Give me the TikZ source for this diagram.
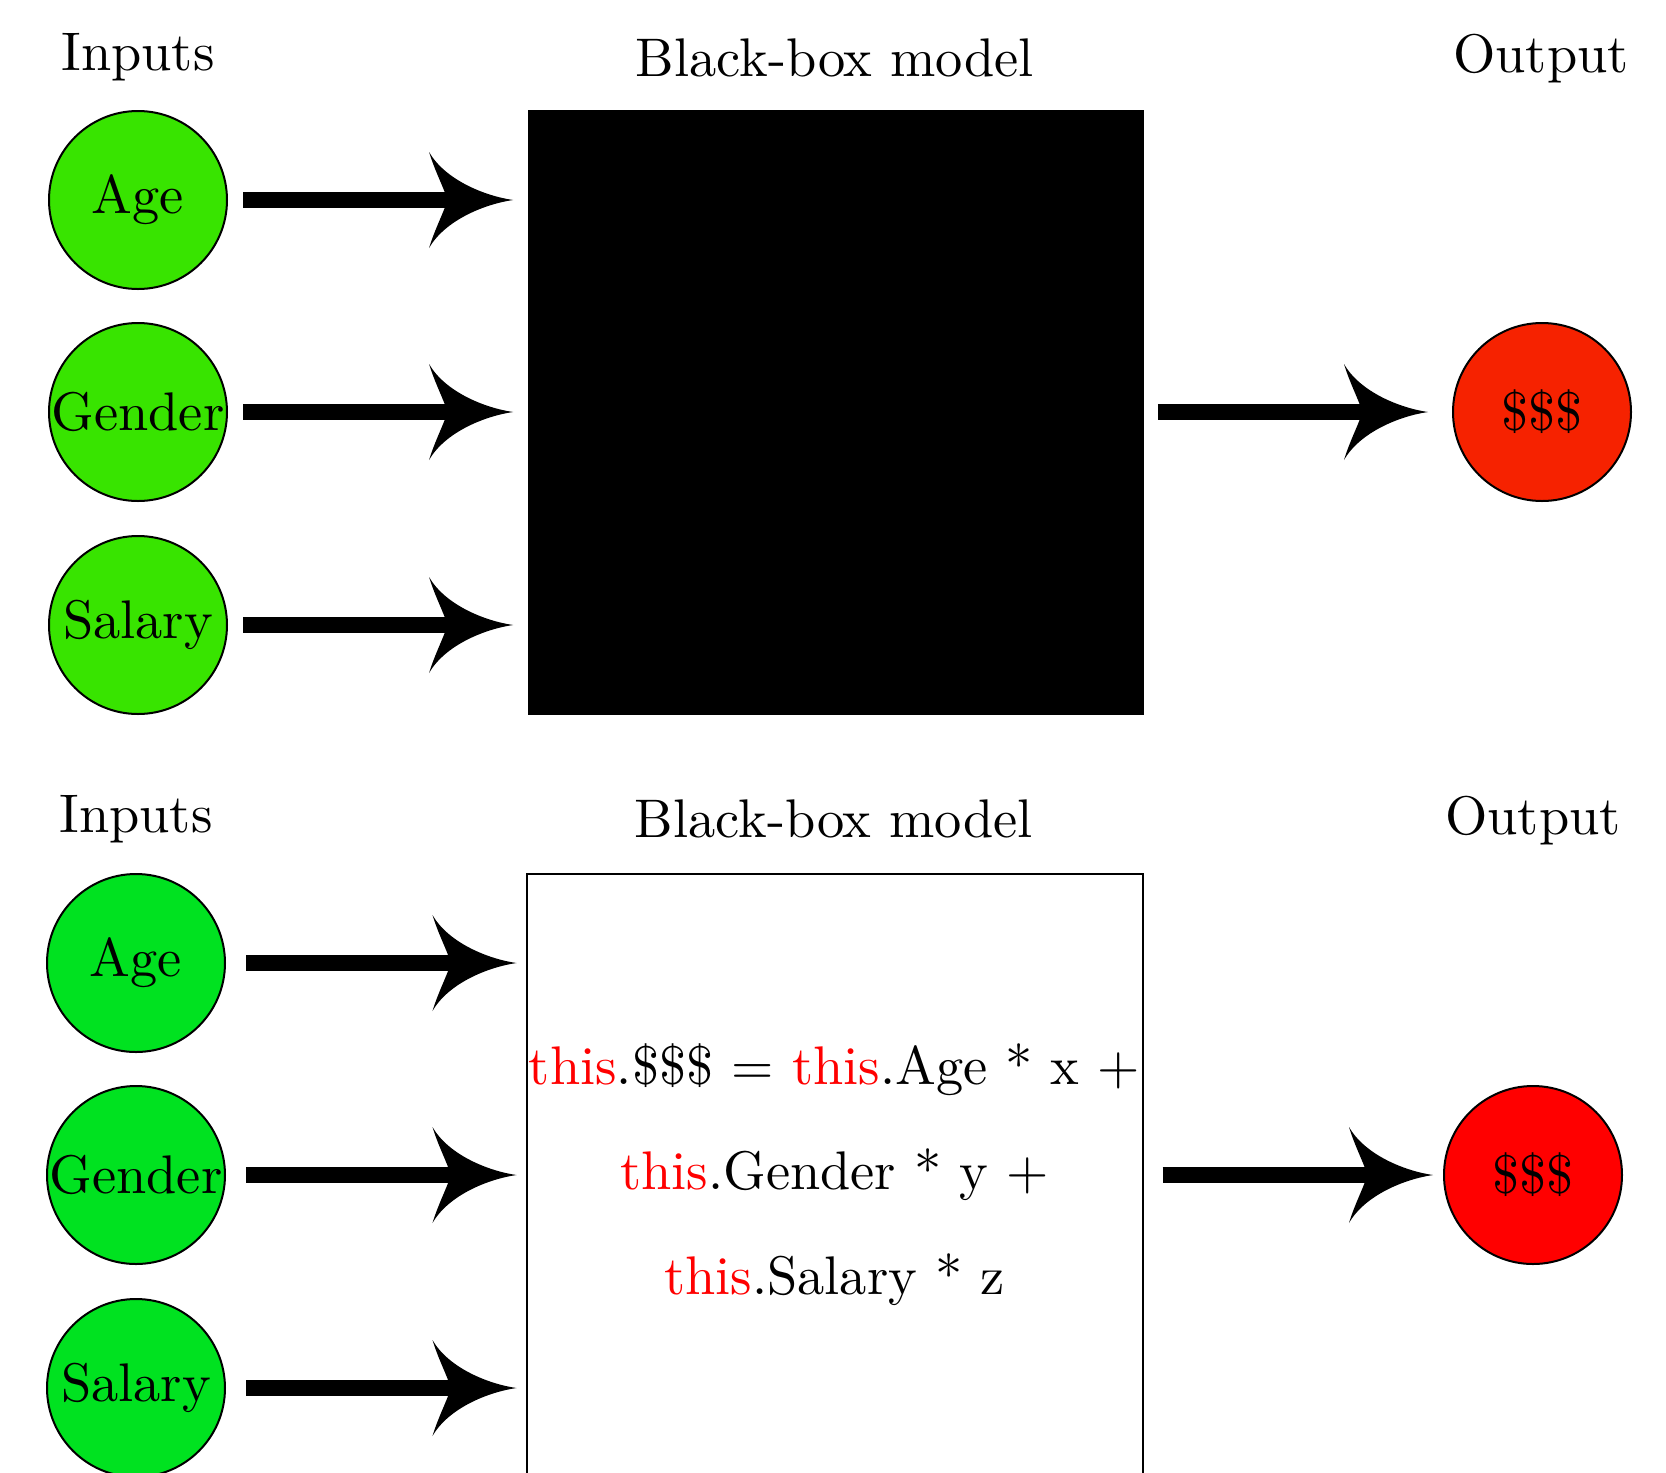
\documentclass[tikz,border=0pt]{standalone}
\usetikzlibrary{arrows.meta}

\definecolor{inA}{RGB}{56,228,0}
\definecolor{inB}{RGB}{0,226,32}
\definecolor{outA}{RGB}{246,34,0}
\definecolor{outB}{RGB}{255,0,0}

% Text is set at 10pt and enlarged as a whole
\newcommand{\bigtxt}[1]{\scalebox{2.72}{#1}}

% Curved, swept-back arrow head for the thick flow arrows
\pgfdeclarearrow{
  name = Swoop,
  setup code = {
    \pgfarrowssettipend{0pt}
    \pgfarrowssetbackend{-42pt}
    \pgfarrowssetlineend{-30pt}
    \pgfarrowshullpoint{0pt}{0pt}
    \pgfarrowsupperhullpoint{-42pt}{24pt}
  },
  drawing code = {
    \pgfpathmoveto{\pgfqpoint{0pt}{0pt}}
    \pgfpathcurveto{\pgfqpoint{-14pt}{2pt}}{\pgfqpoint{-34pt}{10pt}}{\pgfqpoint{-42pt}{24pt}}
    \pgfpathcurveto{\pgfqpoint{-39pt}{14pt}}{\pgfqpoint{-34pt}{5pt}}{\pgfqpoint{-33pt}{0pt}}
    \pgfpathcurveto{\pgfqpoint{-34pt}{-5pt}}{\pgfqpoint{-39pt}{-14pt}}{\pgfqpoint{-42pt}{-24pt}}
    \pgfpathcurveto{\pgfqpoint{-34pt}{-10pt}}{\pgfqpoint{-14pt}{-2pt}}{\pgfqpoint{0pt}{0pt}}
    \pgfpathclose
    \pgfusepathqfill
  }
}

\begin{document}
\begin{tikzpicture}[x=0.5pt,y=-0.5pt,
  every node/.style={font=\fontsize{10}{12}\selectfont},
  heading/.style={anchor=base},
  feature/.style={circle,draw,line width=1pt,minimum size=89pt,inner sep=0pt},
  flow/.style={line width=7.8pt,-Swoop},
  infl/.style={flow,shorten <=7.5pt,shorten >=7pt},
  outfl/.style={flow,shorten <=7pt,shorten >=12pt},
  inflB/.style={flow,shorten <=10pt,shorten >=4.5pt},
  outflB/.style={flow,shorten <=9.5pt,shorten >=5pt},
  model/.style={rectangle,inner sep=0pt,minimum width=308pt,minimum height=302.5pt}]

\clip (0,0) rectangle (1666,1473);
\fill[white] (0,0) rectangle (1666,1473);

% ---- opaque model ----
\node[heading] (inT1) at (138,70) {\bigtxt{Inputs}};
\node[heading] (bbT1) at (835,76) {\bigtxt{Black-box model}};
\node[heading] (outT1) at (1541,72) {\bigtxt{Output}};

\node[feature,fill=inA] (age1) at (138,200) {\bigtxt{Age}};
\node[feature,fill=inA] (gen1) at (138,412) {\bigtxt{Gender}};
\node[feature,fill=inA] (sal1) at (138,625) {\bigtxt{Salary}};

\node[model,fill=black] (box1) at (835.5,412.5) {};
\node[feature,fill=outA] (pay1) at (1542,412) {\bigtxt{\$\$\$}};

\draw[infl] (age1) -- (age1 -| box1.west);
\draw[infl] (gen1) -- (gen1 -| box1.west);
\draw[infl] (sal1) -- (sal1 -| box1.west);
\draw[outfl] (box1.east |- pay1) -- (pay1);

% ---- transparent model ----
\node[heading] (inT2) at (136,832) {\bigtxt{Inputs}};
\node[heading] (bbT2) at (834,837) {\bigtxt{Black-box model}};
\node[heading] (outT2) at (1533,834) {\bigtxt{Output}};

\node[feature,fill=inB] (age2) at (136,963) {\bigtxt{Age}};
\node[feature,fill=inB] (gen2) at (136,1175) {\bigtxt{Gender}};
\node[feature,fill=inB] (sal2) at (136,1388) {\bigtxt{Salary}};

\node[model,draw,line width=1pt] (box2) at (834.5,1176) {};
\node (eq) at ([yshift=3.7pt]box2.center)
  {\bigtxt{\renewcommand{\arraystretch}{1.61}%
   \begin{tabular}{@{}c@{}}
   \textcolor{red}{this}.\$\$\$ = \textcolor{red}{this}.Age * x +\\
   \textcolor{red}{this}.Gender * y +\\
   \textcolor{red}{this}.Salary * z
   \end{tabular}}};
\node[feature,fill=outB] (pay2) at (1533,1175) {\bigtxt{\$\$\$}};

\draw[inflB] (age2) -- (age2 -| box2.west);
\draw[inflB] (gen2) -- (gen2 -| box2.west);
\draw[inflB] (sal2) -- (sal2 -| box2.west);
\draw[outflB] (box2.east |- pay2) -- (pay2);
\end{tikzpicture}
\end{document}
